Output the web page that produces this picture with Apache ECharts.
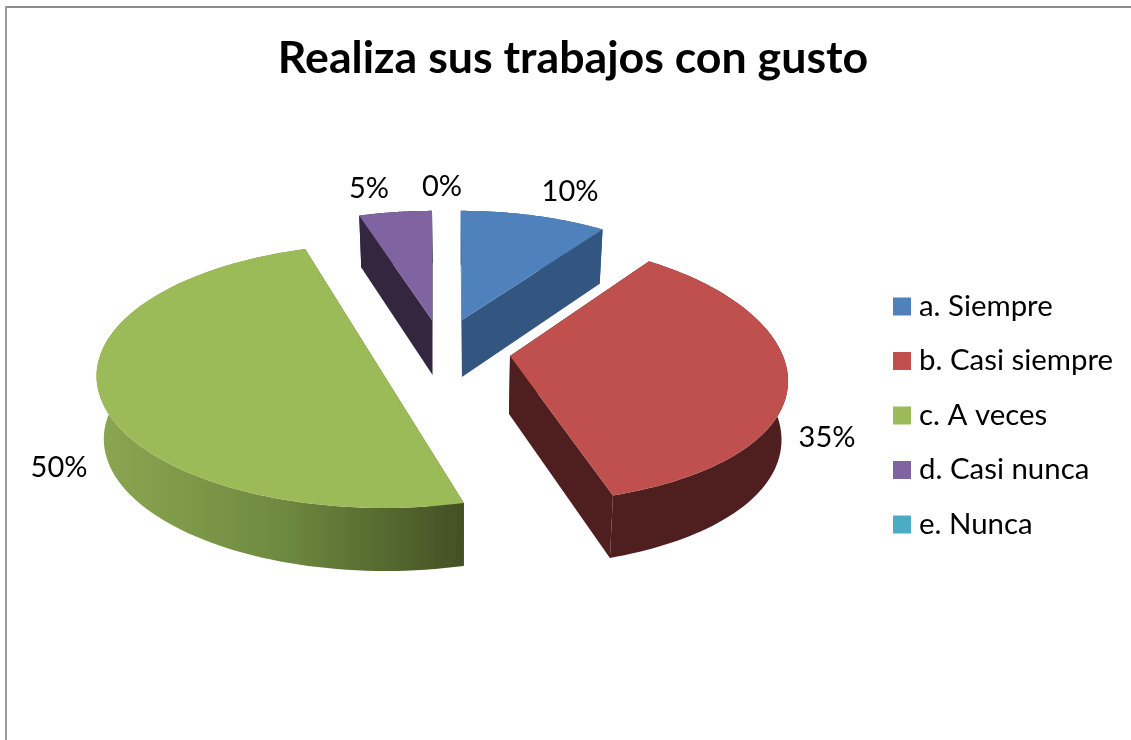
<!DOCTYPE html>
<html><head><meta charset="utf-8">
<style>html,body{margin:0;padding:0;background:#fff}#c{width:1131px;height:740px}</style>
<script src="https://cdn.jsdelivr.net/npm/echarts@6/dist/echarts.min.js"></script>
</head><body><div id="c"></div>
<script>
const titleText = 'Realiza sus trabajos con gusto';
const categories = ['a. Siempre','b. Casi siempre','c. A veces','d. Casi nunca','e. Nunca'];
const values = [10,35,50,5,0];
const topColors = ['#4f81bd','#c0504d','#9bbb59','#8064a2','#4bacc6'];
const wallColors = ['#32567f','#4e1f1e','#4d5c29','#35263f','#2b6a7c'];
// layout of each exploded slice: centre, radii, perspective, rotation, wall height
const sliceLayout = [
  {ax:462,ay:320,rx:278,ry:123,kx:0.19,ky:0.127,rot:-0.3,h:57},
  {ax:510,ay:356,rx:273,ry:129,kx:0.19,ky:0.127,rot:0,h:58},
  {ax:384.5,ay:376,rx:288,ry:132,kx:0,ky:0,rot:2,h:63},
  {ax:432,ay:320,rx:278,ry:123,kx:0.19,ky:0.127,rot:0,h:55},
  {ax:442,ay:320,rx:278,ry:123,kx:0.19,ky:0.127,rot:0,h:55}
];
const vanishX = 460;
const labelPos = [[570,192],[827,438],[59,468],[369,189],[442,187]];
const total = values.reduce((a,b)=>a+b,0);

function proj(L,deg){
  const t=(deg+L.rot)*Math.PI/180, u=Math.sin(t), v=-Math.cos(t);
  const sx=1/(1-L.kx*v), sy=1/(1-L.ky*v);
  return {x:L.ax+L.rx*u*sx, y:L.ay+L.ry*v*sy, s:sx};
}
function drop(L,p){ return [vanishX+(p.x-vanishX)*0.98, p.y+L.h+20*(p.s-1)]; }
function renderSlice(i, api){
  const v=api.value(0), L=sliceLayout[i];
  let start=0; for(let j=0;j<i;j++) start+=values[j]/total*360;
  const end=start+v/total*360;
  const children=[];
  const lab={type:'text',style:{text:Math.round(v/total*100)+'%',x:labelPos[i][0],y:labelPos[i][1],
    fill:'#000',font:'29px Lato',align:'center',verticalAlign:'middle'},z2:5};
  if(v>0){
    const apex={x:L.ax,y:L.ay,s:1};
    const rim=[]; for(let n=0;n<=90;n++) rim.push(proj(L,start+(end-start)*n/90));
    const a=[apex.x,apex.y], ad=drop(L,apex);
    const wall=wallColors[i];
    const outerFill = i===2 ? new echarts.graphic.LinearGradient(100,0,464,0,
      [{offset:0,color:'#8ba651'},{offset:0.5,color:'#6e8a40'},{offset:1,color:'#435024'}],true) : wall;
    [rim[0],rim[rim.length-1]].forEach(p=>{
      children.push({type:'polygon',shape:{points:[a,[p.x,p.y],drop(L,p),ad]},style:{fill:wall}});
    });
    const pts=rim.map(p=>[p.x,p.y]).concat(rim.slice().reverse().map(p=>drop(L,p)));
    children.push({type:'polygon',shape:{points:pts},style:{fill:outerFill}});
    children.push({type:'polygon',shape:{points:[a].concat(rim.map(p=>[p.x,p.y]))},style:{fill:topColors[i]}});
  }
  children.push(lab);
  return {type:'group',children};
}
const chart=echarts.init(document.getElementById('c'),null,{renderer:'canvas'});
chart.setOption({
  animation:false,
  backgroundColor:'#fff',
  title:{text:titleText,left:568,top:31,textAlign:'center',
    textStyle:{fontFamily:'Lato',fontWeight:'bold',fontSize:44.7,color:'#000'}},
  legend:{orient:'vertical',left:893,top:292,padding:0,itemWidth:18,itemHeight:18,itemGap:25.5,icon:'rect',
    data:categories,textStyle:{fontFamily:'Lato',fontSize:29.4,color:'#000',padding:[0,0,0,3]},selectedMode:false},
  graphic:[
    {type:'rect',shape:{x:5,y:6,width:1126,height:2},style:{fill:'#8c8c8c'},silent:true},
    {type:'rect',shape:{x:5,y:6,width:2,height:734},style:{fill:'#9a9a9a'},silent:true}
  ],
  series:categories.map((name,i)=>({
    type:'custom',name,coordinateSystem:'none',
    itemStyle:{color:topColors[i]},
    data:[[values[i]]],
    renderItem:(p,api)=>renderSlice(i,api)
  }))
});
</script></body></html>
